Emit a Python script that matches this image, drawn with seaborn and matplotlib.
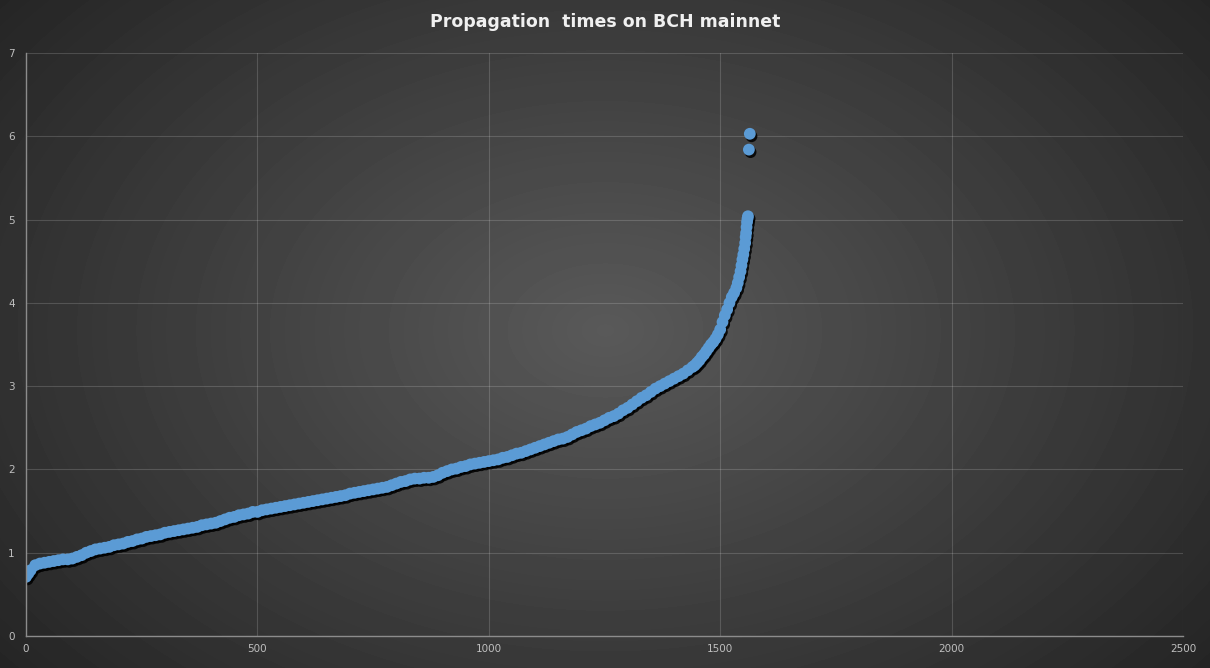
import numpy as np
import pandas as pd
import seaborn as sns
import matplotlib.pyplot as plt
from matplotlib.transforms import offset_copy

# rank of each block sample (sorted) and its propagation time in seconds
ranks = [0, 5, 10, 20, 30, 40, 50, 60, 70, 80, 90,
         100, 110, 120, 130, 140, 150, 160, 170, 180, 190,
         200, 210, 220, 230, 240, 250, 260, 270, 280, 290,
         300, 310, 320, 330, 340, 350, 360, 370, 380, 390,
         400, 410, 420, 430, 440, 450, 460, 470, 480, 490,
         500, 510, 520, 530, 540, 550, 560, 570, 580, 590,
         600, 610, 620, 630, 640, 650, 660, 670, 680, 690,
         700, 710, 720, 730, 740, 750, 760, 770, 780, 790,
         800, 810, 820, 830, 840, 850, 860, 870, 880, 890,
         900, 910, 920, 930, 940, 950, 960, 970, 980, 990,
         1000, 1010, 1020, 1030, 1040, 1050, 1060, 1070, 1080, 1090,
         1100, 1110, 1120, 1130, 1140, 1150, 1160, 1170, 1180, 1190,
         1200, 1210, 1220, 1230, 1240, 1250, 1260, 1270, 1280, 1290,
         1300, 1310, 1320, 1330, 1340, 1350, 1360, 1370, 1380, 1390,
         1400, 1410, 1420, 1430, 1440, 1445, 1450, 1455, 1460, 1465,
         1470, 1475, 1480, 1485, 1490, 1495, 1500, 1505, 1510, 1515,
         1520, 1525, 1530, 1535, 1538, 1541, 1544, 1546, 1548, 1550,
         1552, 1554, 1555, 1556, 1557, 1558, 1559, 1560, 1562, 1564]
times = [0.71, 0.75, 0.79, 0.85, 0.87, 0.88, 0.89, 0.90, 0.91, 0.92, 0.92,
         0.93, 0.95, 0.97, 1.00, 1.02, 1.04, 1.05, 1.06, 1.07, 1.09,
         1.10, 1.11, 1.13, 1.14, 1.16, 1.17, 1.19, 1.20, 1.21, 1.22,
         1.24, 1.25, 1.26, 1.27, 1.28, 1.29, 1.30, 1.31, 1.33, 1.34,
         1.35, 1.36, 1.38, 1.40, 1.42, 1.43, 1.45, 1.46, 1.47, 1.49,
         1.49, 1.51, 1.52, 1.53, 1.54, 1.55, 1.56, 1.57, 1.58, 1.59,
         1.60, 1.61, 1.62, 1.63, 1.64, 1.65, 1.66, 1.67, 1.68, 1.69,
         1.71, 1.72, 1.73, 1.74, 1.75, 1.76, 1.77, 1.78, 1.79, 1.81,
         1.83, 1.85, 1.86, 1.88, 1.89, 1.89, 1.90, 1.90, 1.91, 1.93,
         1.96, 1.98, 2.00, 2.01, 2.03, 2.04, 2.06, 2.07, 2.08, 2.09,
         2.10, 2.11, 2.12, 2.14, 2.15, 2.17, 2.19, 2.20, 2.22, 2.24,
         2.26, 2.28, 2.30, 2.32, 2.34, 2.36, 2.37, 2.39, 2.42, 2.45,
         2.47, 2.49, 2.52, 2.54, 2.56, 2.59, 2.62, 2.64, 2.67, 2.71,
         2.74, 2.78, 2.82, 2.86, 2.89, 2.93, 2.97, 3.00, 3.03, 3.06,
         3.09, 3.12, 3.15, 3.19, 3.23, 3.25, 3.28, 3.31, 3.35, 3.38,
         3.42, 3.46, 3.50, 3.53, 3.57, 3.62, 3.68, 3.77, 3.85, 3.92,
         4.00, 4.07, 4.12, 4.18, 4.24, 4.31, 4.38, 4.45, 4.52, 4.58,
         4.65, 4.72, 4.79, 4.84, 4.91, 4.97, 5.01, 5.04, 5.84, 6.03]

x_ticks = [0, 500, 1000, 1500, 2000, 2500]
y_ticks = [0, 1, 2, 3, 4, 5, 6, 7]

df = pd.DataFrame({"rank": ranks, "time": times})

sns.set_style("dark")
plt.rcParams['font.family'] = ['DejaVu Sans']

fig = plt.figure(figsize=(12.1, 6.68), dpi=100)

# radial dark background like the Excel chart style
bg = fig.add_axes([0, 0, 1, 1])
yy, xx = np.mgrid[0:668, 0:1210]
r = np.sqrt(((xx - 605) / 760.0) ** 2 + ((yy - 330) / 520.0) ** 2)
shade = np.clip(0.35 - 0.2 * r, 0.14, 0.35)
bg.imshow(shade, cmap="gray", vmin=0, vmax=1, aspect="auto", interpolation="bilinear")
bg.set_axis_off()

ax = fig.add_axes([26 / 1210, 32 / 668, 1157 / 1210, 583 / 668])
ax.set_facecolor("none")

# drop shadow under the markers
sns.scatterplot(data=df, x="rank", y="time", ax=ax, s=72, color="black",
                edgecolor="none", alpha=0.85, legend=False)
ax.collections[0].set_offset_transform(
    offset_copy(ax.transData, fig=fig, x=1.2, y=-1.8, units="points"))

sns.scatterplot(data=df, x="rank", y="time", ax=ax, s=72, color="#5b9bd5",
                edgecolor="none", legend=False)

ax.set_xlim(0, 2500)
ax.set_ylim(0, 7)
ax.set_xticks(x_ticks)
ax.set_yticks(y_ticks)
ax.grid(True, color="white", alpha=0.16, lw=0.8)
ax.set_axisbelow(True)
for side in ["top", "right"]:
    ax.spines[side].set_visible(False)
for side in ["left", "bottom"]:
    ax.spines[side].set_visible(True)
    ax.spines[side].set_color("#8c8c8c")
    ax.spines[side].set_linewidth(1)
ax.tick_params(axis="both", length=0, labelsize=7.5, colors="#bfbfbf")
ax.tick_params(axis="x", pad=6)
ax.tick_params(axis="y", pad=8)
ax.set_xlabel("")
ax.set_ylabel("")

fig.text(0.5, 1 - 22 / 668, "Propagation  times on BCH mainnet", ha="center",
         va="center", fontsize=12.5, fontweight="bold", color="#f0f0f0")

fig.savefig("out.png", dpi=100)
